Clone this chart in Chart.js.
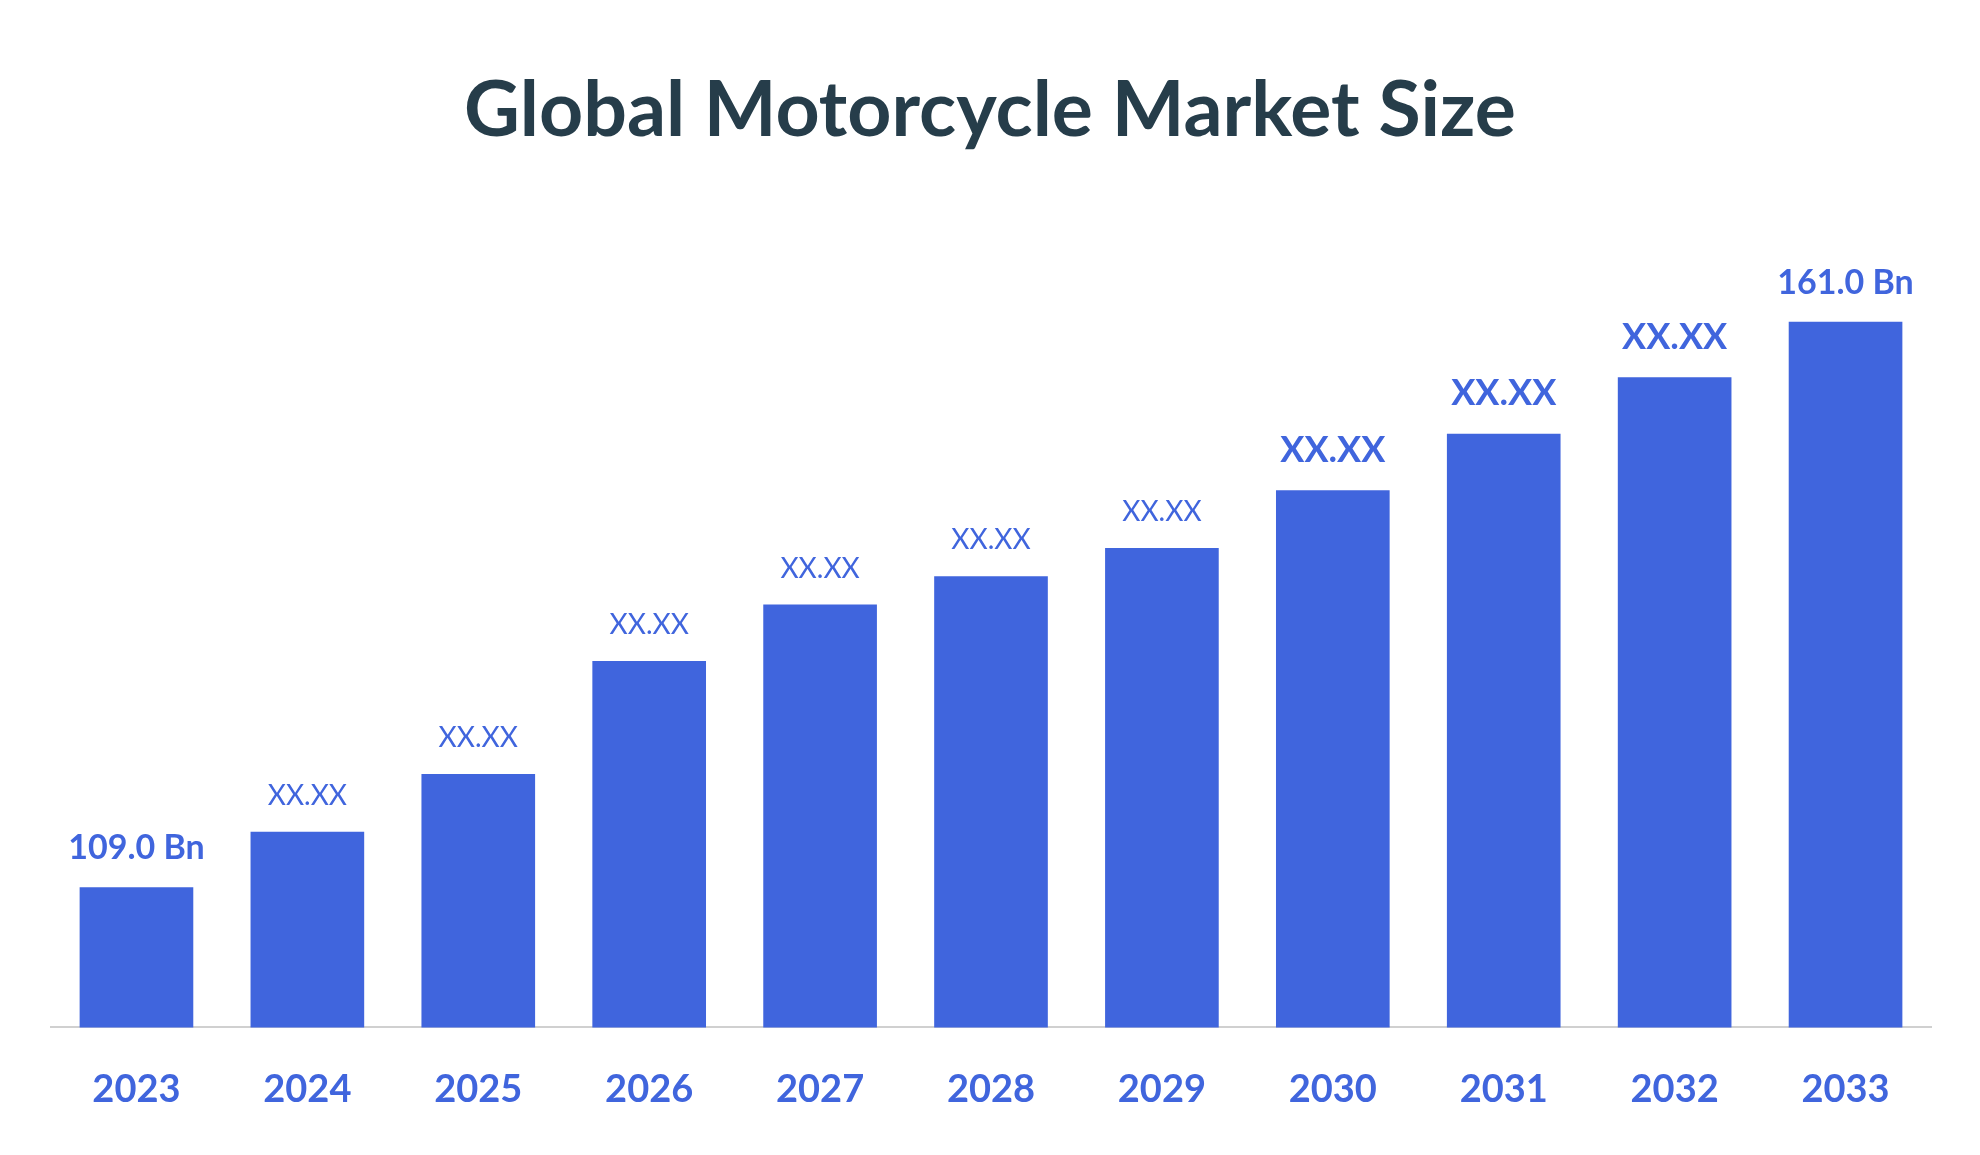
<!DOCTYPE html>
<html>
<head>
<meta charset="utf-8">
<script src="https://cdn.jsdelivr.net/npm/chart.js@4"></script>
<style>
  body { margin: 0; background: #fff; }
  #wrap { position: relative; width: 1980px; height: 1155px; }
  #title { position: absolute; top: 60px; left: 0; width: 1980px; text-align: center;
           font: bold 77px Lato, "Open Sans", sans-serif; color: #263d4a; }
  canvas { position: absolute; top: 0; left: 0; }
</style>
</head>
<body>
<div id="wrap">
  <div id="title">Global Motorcycle Market Size</div>
  <canvas id="chart" width="1980" height="1155"></canvas>
</div>
<script>
const years = ['2023', '2024', '2025', '2026', '2027', '2028', '2029', '2030', '2031', '2032', '2033'];
const marketSize = [109.0, 114.1, 119.4, 129.8, 135.0, 137.6, 140.2, 145.5, 150.7, 155.9, 161.0];
const barLabels = ['109.0 Bn', 'XX.XX', 'XX.XX', 'XX.XX', 'XX.XX', 'XX.XX', 'XX.XX', 'XX.XX', 'XX.XX', 'XX.XX', '161.0 Bn'];
const labelSizes = [34, 28, 28, 28, 28, 28, 28, 36, 36, 36, 34];

const blue = '#4065dd';

// draws the value text above each bar
const barLabelPlugin = {
    id: 'barLabels',
    afterDatasetsDraw(chart) {
        const ctx = chart.ctx;
        const meta = chart.getDatasetMeta(0);
        ctx.save();
        ctx.fillStyle = blue;
        ctx.textAlign = 'center';
        ctx.textBaseline = 'bottom';
        meta.data.forEach((bar, i) => {
            const bold = barLabels[i].includes('Bn') || labelSizes[i] > 30;
            ctx.font = (bold ? 'bold ' : '') + labelSizes[i] + 'px Lato, "Open Sans", sans-serif';
            ctx.fillText(barLabels[i], bar.x, bar.y - 22);
        });
        ctx.restore();
    }
};

new Chart(document.getElementById('chart').getContext('2d'), {
    type: 'bar',
    data: {
        labels: years,
        datasets: [{
            data: marketSize,
            backgroundColor: blue,
            categoryPercentage: 0.665,
            barPercentage: 1
        }]
    },
    options: {
        responsive: false,
        animation: false,
        layout: { padding: { top: 224, left: 51, right: 49, bottom: 2 } },
        plugins: { legend: { display: false }, tooltip: { enabled: false } },
        scales: {
            x: {
                grid: { display: false, drawTicks: false },
                border: { color: '#d0d0d0', width: 2 },
                ticks: { color: blue, padding: 40, font: { size: 38, weight: 'bold', family: 'Lato, "Open Sans", sans-serif' } }
            },
            y: { display: false, min: 96.1, max: 170 }
        }
    },
    plugins: [barLabelPlugin]
});
</script>
</body>
</html>
